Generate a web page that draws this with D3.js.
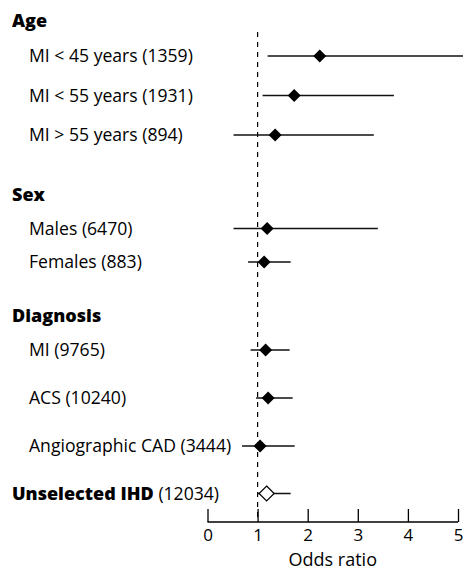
<!DOCTYPE html>
<html>
<head>
<meta charset="utf-8">
<script src="https://cdn.jsdelivr.net/npm/d3@7"></script>
<style>
  body { margin: 0; background: #fff; }
  svg { display: block; font-family: "Open Sans", "DejaVu Sans", sans-serif; }
</style>
</head>
<body>
<div id="chart"></div>
<script>
// groups and rows of the forest plot
const groups = ['Age', 'Sex', 'Diagnosis'];
const rowLabels = [
  'MI < 45 years (1359)', 'MI < 55 years (1931)', 'MI > 55 years (894)',
  'Males (6470)', 'Females (883)',
  'MI (9765)', 'ACS (10240)', 'Angiographic CAD (3444)'
];
const rowGroup = ['Age', 'Age', 'Age', 'Sex', 'Sex', 'Diagnosis', 'Diagnosis', 'Diagnosis'];
const oddsRatio = [2.24, 1.73, 1.35, 1.19, 1.13, 1.16, 1.21, 1.05];
const ciLow     = [1.20, 1.10, 0.52, 0.52, 0.81, 0.86, 0.97, 0.69];
const ciHigh    = [5.10, 3.72, 3.32, 3.40, 1.66, 1.64, 1.70, 1.74];

// pooled estimate
const pooledLabel = 'Unselected IHD';
const pooledN = '(12034)';
const pooledOR = 1.18;
const pooledLow = 0.99;
const pooledHigh = 1.66;

const xTicks = [0, 1, 2, 3, 4, 5];
const xTitle = 'Odds ratio';

const W = 464, H = 572;
const svg = d3.select('#chart').append('svg')
  .attr('width', W).attr('height', H);

const x = d3.scaleLinear().domain([0, 5]).range([207.5, 458]);

// vertical slot for each header / row (uneven spacing as in the original)
const keys = ['Age'].concat(rowLabels.slice(0, 3), ['Sex'], rowLabels.slice(3, 5),
  ['Diagnosis'], rowLabels.slice(5), [pooledLabel]);
const y = d3.scaleOrdinal()
  .domain(keys)
  .range([21, 56, 95.5, 135, 195, 228.5, 262, 316, 350, 398, 446, 493.5]);

const axisY = 522;
const labelSize = 17.6;

// reference line at OR = 1
svg.append('line')
  .attr('x1', x(1)).attr('x2', x(1))
  .attr('y1', 32).attr('y2', axisY)
  .attr('stroke', '#000')
  .attr('stroke-width', 1.2)
  .attr('stroke-dasharray', '5,5');

// group headers
svg.selectAll('.hdr')
  .data(groups)
  .join('text')
  .attr('class', 'hdr')
  .attr('x', 12)
  .attr('y', d => y(d))
  .attr('dy', '0.35em')
  .attr('font-size', 18)
  .attr('font-weight', 800)
  .text(d => d);

const rows = rowLabels.map((l, i) => ({ label: l, group: rowGroup[i], or: oddsRatio[i], lo: ciLow[i], hi: ciHigh[i] }));

svg.selectAll('.lbl')
  .data(rows)
  .join('text')
  .attr('class', 'lbl')
  .attr('x', 29)
  .attr('y', d => y(d.label))
  .attr('dy', '0.35em')
  .attr('font-size', labelSize)
  .text(d => d.label);

svg.selectAll('.ci')
  .data(rows)
  .join('line')
  .attr('class', 'ci')
  .attr('x1', d => x(d.lo))
  .attr('x2', d => Math.min(x(d.hi), W))
  .attr('y1', d => y(d.label))
  .attr('y2', d => y(d.label))
  .attr('stroke', '#111')
  .attr('stroke-width', 1.5);

const diamond = (cx, cy, r) => `M${cx},${cy - r}L${cx + r},${cy}L${cx},${cy + r}L${cx - r},${cy}Z`;

svg.selectAll('.pt')
  .data(rows)
  .join('path')
  .attr('class', 'pt')
  .attr('d', d => diamond(x(d.or), y(d.label), 6.5))
  .attr('fill', '#000');

// pooled row
const pooledText = svg.append('text')
  .attr('x', 12)
  .attr('y', y(pooledLabel))
  .attr('dy', '0.35em')
  .attr('font-size', labelSize);
pooledText.append('tspan').attr('font-weight', 800).attr('font-size', 18).text(pooledLabel + ' ');
pooledText.append('tspan').text(pooledN);

svg.append('line')
  .attr('x1', x(pooledLow)).attr('x2', x(pooledHigh))
  .attr('y1', y(pooledLabel)).attr('y2', y(pooledLabel))
  .attr('stroke', '#111').attr('stroke-width', 1.5);

svg.append('path')
  .attr('d', diamond(x(pooledOR), y(pooledLabel), 7.5))
  .attr('fill', '#fff')
  .attr('stroke', '#000')
  .attr('stroke-width', 1.2);

// x axis with ticks pointing up
const axis = svg.append('g')
  .attr('transform', `translate(0,${axisY})`)
  .call(d3.axisTop(x).tickValues(xTicks).tickSize(13).tickFormat(d3.format('d')));
axis.select('.domain').attr('d', `M${x(0)},0H${x(5)}`).attr('stroke-width', 1.3);
axis.selectAll('.tick line').attr('stroke-width', 1.3);
axis.selectAll('.tick text')
  .attr('y', 7)
  .attr('dy', '0.71em')
  .attr('font-size', 17)
  .attr('font-family', '"Open Sans", sans-serif')
  .attr('fill', '#000');

svg.append('text')
  .attr('x', (x(0) + x(5)) / 2)
  .attr('y', 566)
  .attr('text-anchor', 'middle')
  .attr('font-size', 18)
  .text(xTitle);
</script>
</body>
</html>
